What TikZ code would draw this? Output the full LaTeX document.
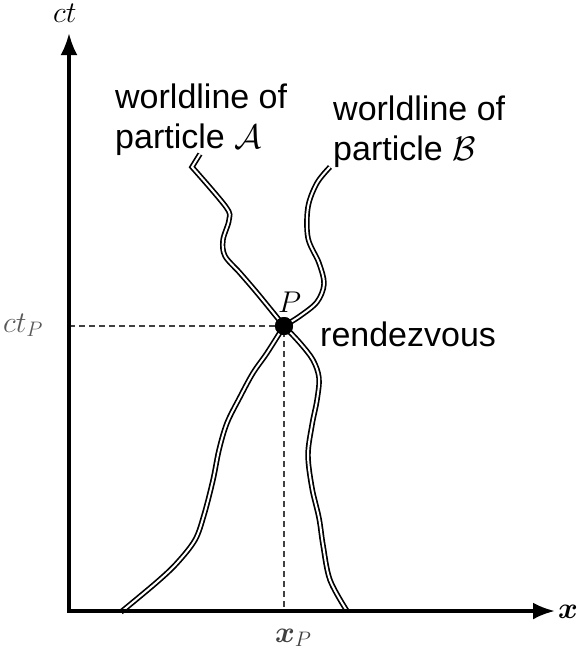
\RequirePackage{fix-cm}
\documentclass[tikz,border=0pt]{standalone}
\usepackage{fontspec}
\setmainfont{Liberation Sans}
\usepackage{amsmath, amssymb, bm}
\usetikzlibrary{arrows.meta}

\begin{document}
\begin{tikzpicture}[x=1pt, y=-1pt,
				>={Latex[length=22pt, width=17pt]},   %Pfeilspitzen
				worldline/.style={double=white, double distance=2pt, line width=1.7pt},
				guide/.style={dash pattern=on 6pt off 4pt, line width=1.1pt, color=black!75},
				dot/.style={circle, fill=black, inner sep=0pt, minimum size=18pt},
				mathlabel/.style={font=\fontsize{30}{36}\selectfont, anchor=base west, inner sep=0pt},
				font=\fontsize{34}{40}\selectfont]
				\useasboundingbox (0,0) rectangle (577,653);
				%Ereignis P
				\coordinate (O) at (69,611);
				\node[dot] (P) at (284,326) {};
				%Hilfslinien
				\draw[guide] (O |- P.center) -- (P.center) -- (P.center |- O);
				%Weltlinie A
				\draw[worldline] (200,154) -- plot[smooth, tension=0.55] coordinates {(192,167) (226,207) (229,220) (223,240) (225,256) (240,273) (258,294) (P.center)};
				\draw[worldline] plot[smooth, tension=0.55] coordinates {(P.center) (267,353) (253,373) (240,397) (227,423) (219,450) (213,480) (204,515) (195,540) (177,563) (157,582) (121,612)};
				%Weltlinie B
				\draw[worldline] plot[smooth, tension=0.55] coordinates {(330,167) (317,183) (308,207) (308,238) (319,263) (324,284) (317,302) (300,316) (P.center)};
				\draw[worldline] plot[smooth, tension=0.55] coordinates {(P.center) (300,343) (313,360) (319,378) (317,400) (312,425) (308,455) (312,488) (319,518) (323,545) (330,580) (347,611)};
				\node[dot] at (P) {};
				%Achsen zeichnen
				\draw[<->, line width=3.5pt] (69,33) -- (O) -- (555,611);
				\node[mathlabel] (ct) at (53,23) {$ct$};
				\node[mathlabel] (x) at (558,618) {$\bm{x}$};
				%Beschriftung
				\node[mathlabel, text=black!65] (ctP) at (3,332) {$ct_P$};
				\node[mathlabel, text=black!75] (xP) at (275,642) {$\bm{x}_P$};
				\node[mathlabel] (Plabel) at (278,312) {$P$};
				\node[anchor=base west, inner sep=0pt] (rendezvous) at (320,346) {rendezvous};
				\node[anchor=north west, inner sep=0pt, align=left] (labelA) at (115,84) {worldline of\\particle $\mathcal{A}$};
				\node[anchor=north west, inner sep=0pt, align=left] (labelB) at (333,96) {worldline of\\particle $\mathcal{B}$};
\end{tikzpicture}
\end{document}
